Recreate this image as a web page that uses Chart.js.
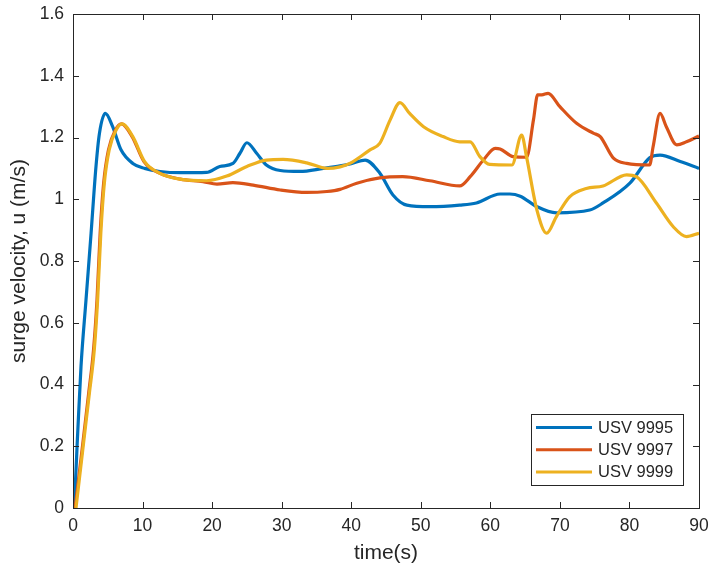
<!DOCTYPE html>
<html>
<head>
<meta charset="utf-8">
<script src="https://cdn.jsdelivr.net/npm/chart.js@4"></script>
<style>
  html, body { margin: 0; padding: 0; background: #fff; }
  canvas { display: block; }
</style>
</head>
<body>
<canvas id="surge" width="712" height="573"></canvas>
<script>
// surge velocity traces, time in seconds, u in m/s
var seriesNames = ['USV 9995', 'USV 9997', 'USV 9999'];
var seriesColors = ['#0072BD', '#D95319', '#EDB120'];

var t9995 = [0, 0.2, 0.67, 1.15, 1.87, 2.6, 3.3, 3.8, 4.65, 5.7, 6.9, 8.6, 10.3, 12.5, 15.5, 19.2, 21.1, 23, 24, 25, 26.4, 27.8, 29.8, 32.6, 36, 38.4, 40, 42, 44.1, 46, 48, 51.3, 55.6, 58, 61.4, 62.8, 64.3, 66.7, 69.5, 74.3, 76.2, 80.1, 82.9, 84.4, 87.3, 90];
var u9995 = [0, 0.026, 0.24, 0.458, 0.674, 0.89, 1.105, 1.213, 1.278, 1.235, 1.16, 1.116, 1.1, 1.09, 1.086, 1.087, 1.106, 1.116, 1.149, 1.183, 1.149, 1.111, 1.093, 1.09, 1.1, 1.108, 1.115, 1.127, 1.085, 1.014, 0.981, 0.976, 0.981, 0.988, 1.017, 1.017, 1.01, 0.976, 0.956, 0.965, 0.988, 1.053, 1.134, 1.143, 1.122, 1.1];

var t9997 = [0.3, 1.3, 2.25, 2.95, 3.45, 3.9, 4.4, 5.1, 6.1, 6.95, 8.5, 10.2, 12.5, 15.4, 18.7, 20.7, 23, 25.9, 29.8, 33.6, 36.5, 38.4, 40.8, 44.1, 47.4, 51.3, 55.6, 57.1, 59, 60.7, 61.4, 63.3, 65.2, 66.2, 66.8, 67.4, 68.3, 70, 72.4, 74.8, 75.8, 77.7, 79.6, 82.9, 83.4, 84.4, 85.3, 86.8, 88.2, 90];
var u9997 = [0, 0.188, 0.371, 0.512, 0.674, 0.89, 1.051, 1.16, 1.224, 1.244, 1.203, 1.122, 1.084, 1.065, 1.057, 1.049, 1.054, 1.046, 1.03, 1.022, 1.025, 1.032, 1.052, 1.069, 1.073, 1.06, 1.043, 1.073, 1.127, 1.165, 1.163, 1.138, 1.136, 1.257, 1.338, 1.338, 1.343, 1.3, 1.246, 1.214, 1.203, 1.133, 1.116, 1.111, 1.17, 1.278, 1.235, 1.176, 1.186, 1.205];

var t9999 = [0.43, 1.4, 2.35, 3.06, 3.54, 4.0, 4.5, 5.2, 6.2, 7.05, 8.6, 10.3, 12.5, 15.4, 19.2, 22.1, 25, 27.8, 30.2, 33.6, 36.5, 38.4, 39.8, 42.7, 44.1, 45.6, 47, 48.4, 50.4, 53.2, 55.6, 57.1, 58.5, 59.9, 63.1, 64.5, 65.2, 66.7, 68.1, 69.5, 71.4, 73.8, 76.2, 79.6, 81, 83.9, 86.3, 88.2, 90];
var u9999 = [0, 0.188, 0.371, 0.512, 0.674, 0.89, 1.051, 1.16, 1.224, 1.244, 1.203, 1.122, 1.084, 1.065, 1.06, 1.075, 1.106, 1.127, 1.129, 1.118, 1.1, 1.105, 1.116, 1.16, 1.181, 1.257, 1.313, 1.278, 1.235, 1.203, 1.186, 1.186, 1.138, 1.113, 1.111, 1.208, 1.138, 0.965, 0.89, 0.944, 1.008, 1.035, 1.043, 1.079, 1.073, 0.987, 0.911, 0.879, 0.89];

var timeTicks = [0, 10, 20, 30, 40, 50, 60, 70, 80, 90];
var speedTicks = [0, 0.2, 0.4, 0.6, 0.8, 1, 1.2, 1.4, 1.6];

var times = [t9995, t9997, t9999];
var speeds = [u9995, u9997, u9999];

var axisColor = '#262626';
var fontFamily = '"Liberation Sans", Arial, Helvetica, sans-serif';

function toPoints(xs, ys) {
  return xs.map(function (x, i) { return { x: x, y: ys[i] }; });
}

// box around the axes with inward ticks on all four sides
var axesBox = {
  id: 'axesBox',
  afterDatasetsDraw: function (chart) {
    var ctx = chart.ctx, a = chart.chartArea;
    var xs = chart.scales.x, ys = chart.scales.y;
    var len = 6;
    ctx.save();
    ctx.strokeStyle = axisColor;
    ctx.lineWidth = 1;
    ctx.strokeRect(a.left + 0.5, a.top + 0.5, a.right - a.left, a.bottom - a.top);
    ctx.beginPath();
    timeTicks.forEach(function (v) {
      var px = Math.round(xs.getPixelForValue(v)) + 0.5;
      ctx.moveTo(px, a.bottom); ctx.lineTo(px, a.bottom - len);
      ctx.moveTo(px, a.top); ctx.lineTo(px, a.top + len);
    });
    speedTicks.forEach(function (v) {
      var py = Math.round(ys.getPixelForValue(v)) + 0.5;
      ctx.moveTo(a.left, py); ctx.lineTo(a.left + len, py);
      ctx.moveTo(a.right, py); ctx.lineTo(a.right - len, py);
    });
    ctx.stroke();
    ctx.restore();
  }
};

// legend box in the lower right corner of the axes
var boxLegend = {
  id: 'boxLegend',
  afterDraw: function (chart) {
    var ctx = chart.ctx, a = chart.chartArea;
    var w = 152, h = 71;
    var x0 = Math.round(a.right - 16 - w), y0 = Math.round(a.bottom - 23 - h);
    ctx.save();
    ctx.fillStyle = '#fff';
    ctx.fillRect(x0, y0, w, h);
    ctx.strokeStyle = axisColor;
    ctx.lineWidth = 1;
    ctx.strokeRect(x0 + 0.5, y0 + 0.5, w, h);
    ctx.font = '16.5px ' + fontFamily;
    ctx.textBaseline = 'middle';
    ctx.fillStyle = axisColor;
    chart.data.datasets.forEach(function (ds, i) {
      var y = y0 + 13.5 + i * 22.2;
      ctx.strokeStyle = ds.borderColor;
      ctx.lineWidth = 3;
      ctx.beginPath();
      ctx.moveTo(x0 + 5, y);
      ctx.lineTo(x0 + 61, y);
      ctx.stroke();
      ctx.fillText(ds.label, x0 + 67, y + 1);
    });
    ctx.restore();
  }
};

var ctx = document.getElementById('surge').getContext('2d');

var surgeChart = new Chart(ctx, {
  type: 'line',
  data: {
    datasets: seriesNames.map(function (name, i) {
      return {
        label: name,
        data: toPoints(times[i], speeds[i]),
        borderColor: seriesColors[i],
        backgroundColor: seriesColors[i],
        borderWidth: 3.2,
        pointRadius: 0,
        fill: false,
        cubicInterpolationMode: 'monotone',
        order: 3 - i
      };
    })
  },
  options: {
    responsive: false,
    animation: false,
    devicePixelRatio: 1,
    layout: { padding: { top: 14, right: 13, left: 0, bottom: 0 } },
    plugins: {
      legend: { display: false },
      tooltip: { enabled: false }
    },
    scales: {
      x: {
        type: 'linear',
        min: 0,
        max: 90,
        afterBuildTicks: function (scale) {
          scale.ticks = timeTicks.map(function (v) { return { value: v }; });
        },
        afterFit: function (scale) {
          scale.height = 65;
          scale.paddingLeft = 0;
          scale.paddingRight = 0;
        },
        grid: { display: false, drawTicks: false },
        border: { display: false },
        ticks: {
          color: axisColor,
          padding: 8,
          maxRotation: 0,
          font: { family: fontFamily, size: 17.5 }
        },
        title: {
          display: true,
          text: 'time(s)',
          color: axisColor,
          font: { family: fontFamily, size: 21 },
          padding: { top: 0, bottom: 7 }
        }
      },
      y: {
        min: 0,
        max: 1.6,
        afterBuildTicks: function (scale) {
          scale.ticks = speedTicks.map(function (v) { return { value: v }; });
        },
        afterFit: function (scale) {
          scale.width = 73;
          scale.paddingTop = 0;
          scale.paddingBottom = 0;
        },
        grid: { display: false, drawTicks: false },
        border: { display: false },
        ticks: {
          color: axisColor,
          padding: 9,
          font: { family: fontFamily, size: 17.5 },
          callback: function (v) { return String(+v.toFixed(1)); }
        },
        title: {
          display: true,
          text: 'surge velocity, u (m/s)',
          color: axisColor,
          font: { family: fontFamily, size: 21 },
          padding: { top: 7, bottom: 0 }
        }
      }
    }
  },
  plugins: [axesBox, boxLegend]
});
</script>
</body>
</html>
